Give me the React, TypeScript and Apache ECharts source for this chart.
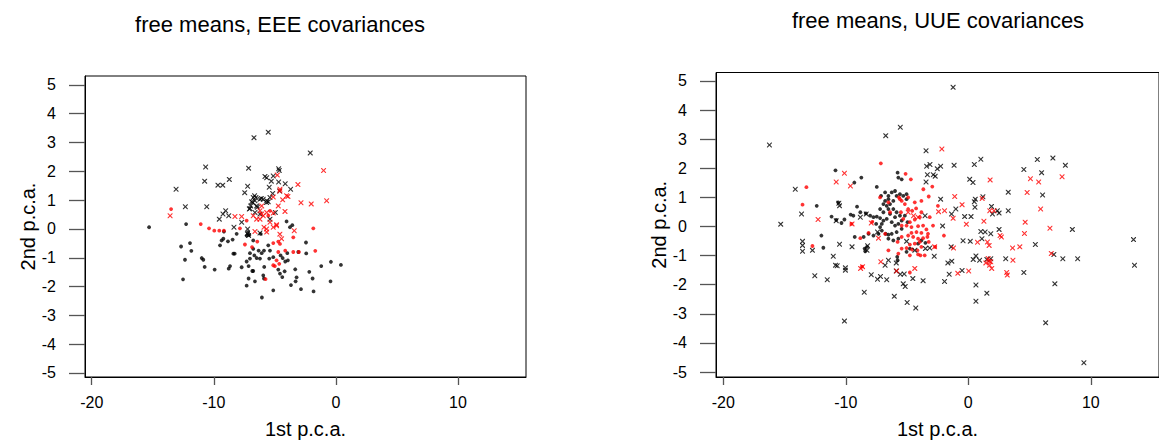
import React, { useEffect, useRef } from "react";
import * as echarts from "echarts";

const xTicks = [-20, -10, 0, 10];
const yTicks = [-5, -4, -3, -2, -1, 0, 1, 2, 3, 4, 5];
const titles = ["free means, EEE covariances", "free means, UUE covariances"];
const xName = "1st p.c.a.";
const yName = "2nd p.c.a.";

const leftBlackDots = [
  [-15.3, 0.06], [-12.27, 0.17], [-11.95, -0.49], [-12.68, -0.61], [-11.84, -0.76], [-12.36, -1.07],
  [-10.99, -1.01], [-10.86, -1.07], [-10.75, -1.32], [-9.93, -1.41], [-12.52, -1.75], [-9.49, -0.57],
  [-9.36, -0.4], [-9.22, -0.34], [-9.17, -0.09], [-8.84, -0.43], [-8.46, -0.37], [-8.13, -0.17],
  [-8.4, -0.86], [-8.29, -0.86], [-8.67, -1.29], [-8.78, -1.38], [-7.72, -1.33], [-7.15, -1.29],
  [-6.85, -1.46], [-6.77, -1.46], [-7.15, -1.72], [-7.31, -1.97], [-6.63, -1.82], [-5.95, -1.61],
  [-5.89, -1.72], [-6.06, -2.38], [-5.13, -2.13], [-4.58, -1.55], [-4.39, -1.67], [-4.2, -1.47],
  [-4.72, -1.41], [-5.46, -1.03], [-5.87, -1.32], [-6.49, -1.01], [-6.22, -1.03], [-6.68, -0.92],
  [-7.04, -1.03], [-7.31, -1.13], [-7.04, -0.84], [-6.77, -0.69], [-6.33, -0.75], [-6.08, -0.84],
  [-5.89, -0.75], [-5.54, -0.57], [-5.4, -0.75], [-5.13, -0.98], [-4.53, -0.92], [-4.36, -1.01],
  [-3.98, -0.84], [-3.93, -1.09], [-4.15, -1.13], [-3.33, -1.4], [-3.22, -1.68], [-3.3, -1.82],
  [-3.68, -1.95], [-2.86, -2.09], [-1.83, -2.17], [-1.91, -1.72], [-2.18, -1.49], [-1.2, -1.29],
  [-0.41, -1.14], [0.41, -1.25], [-0.44, -1.82], [-2.45, -0.47], [-2.43, -0.85], [-3.08, -0.8],
  [-3.57, 0.13], [-3.76, 0.06], [-4.04, 0.26], [-6.16, -0.17], [-6.77, -0.4], [-7.2, -0.11],
  [-7.31, -0.23], [-7.09, -0.21],
];

const leftRedDots = [
  [-13.5, 0.69], [-11.07, 0.17], [-10.39, 0.02], [-9.96, -0.06], [-9.55, -0.06], [-9.17, -0.06],
  [-1.85, 0.02], [-1.69, -0.76], [-3.03, -0.8], [-3.49, -0.8], [-7.45, -0.54], [-6.87, -0.63],
  [-6.44, -0.44], [-5.13, -0.49], [-4.72, -0.44], [-4.58, -0.52], [-4.72, -0.8], [-4.15, -0.75],
  [-4.86, -1.09], [-4.64, -1.21], [-5.13, -1.26], [-5.0, -1.29], [-5.76, -1.74], [-3.49, -0.29],
  [-7.31, 0.29], [-7.86, 0.02], [-5.4, 0.63], [-5.54, 0.46],
];

const leftBlackCross = [
  [-6.71, 3.17], [-5.54, 3.36], [-2.1, 2.64], [-10.67, 2.15], [-7.15, 2.11], [-4.69, 2.09],
  [-4.64, 2.03], [-10.75, 1.66], [-9.66, 1.52], [-9.27, 1.52], [-8.73, 1.72], [-13.09, 1.38],
  [-12.33, 0.77], [-10.58, 0.77], [-7.23, 1.48], [-7.47, 1.26], [-5.81, 1.82], [-5.67, 1.78],
  [-5.13, 1.84], [-5.29, 1.66], [-4.69, 1.63], [-4.15, 1.57], [-5.46, 1.45], [-3.71, 1.38],
  [-4.61, 1.32], [-5.18, 1.23], [-6.66, 1.15], [-6.55, 1.09], [-6.11, 1.06], [-5.67, 0.98],
  [-5.54, 0.94], [-6.82, 0.92], [-6.98, 0.8], [-6.44, 0.75], [-7.09, 0.69], [-6.63, 0.57],
  [-6.22, 0.52], [-4.96, 0.57], [-9.03, 0.63], [-9.25, 0.52], [-8.78, 0.46], [-9.55, 0.34],
  [-7.72, 0.23], [-8.35, 0.06], [-7.23, 0.0], [-7.25, -0.17], [-7.15, -0.23], [-6.22, -0.14],
  [-5.4, 0.34], [-6.77, 1.09], [-6.63, 0.98], [-6.49, 0.8], [-6.9, 0.94], [-7.04, 0.71],
  [-6.22, 1.03], [-5.95, 1.03], [-5.68, 0.92], [-5.4, 1.09],
];

const leftRedCross = [
  [-1.01, 2.03], [-3.11, 1.54], [-0.76, 0.98], [-2.86, 0.91], [-2.02, 0.87], [-13.58, 0.46],
  [-4.8, 1.87], [-4.58, 1.38], [-3.93, 1.13], [-4.36, 1.01], [-5.13, 1.11], [-6.08, 0.8],
  [-4.72, 0.8], [-4.17, 0.61], [-5.67, 0.57], [-5.13, 0.55], [-5.95, 0.46], [-5.4, 0.23],
  [-5.89, 0.06], [-4.86, 0.15], [-5.13, 0.06], [-5.67, -0.11], [-3.41, -0.06], [-4.45, -0.34],
  [-6.63, -0.09], [-8.27, 0.43], [-7.72, 0.43], [-6.08, 0.52], [-6.22, 0.63], [-6.77, 0.46],
  [-6.49, 0.34], [-4.59, 1.32], [-4.04, 1.15], [-4.86, 0.11], [-5.68, 0.0], [-6.22, 0.34],
  [-4.59, -0.18],
];

const rightBlackDots = [
  [-10.84, 1.93], [-8.73, 1.68], [-9.3, 1.51], [-7.47, 1.36], [-12.37, 0.71], [-10.62, 0.83],
  [-11.16, 0.34], [-10.78, 0.23], [-10.35, 0.12], [-10.11, 0.24], [-9.6, 0.41], [-9.38, 0.37],
  [-9.08, 0.68], [-8.81, 0.49], [-8.36, 0.45], [-8.01, 0.37], [-7.74, 0.32], [-7.47, 0.34],
  [-7.2, 0.29], [-11.99, -0.31], [-11.83, -0.73], [-9.27, -0.36], [-8.54, -0.36], [-8.14, -0.25],
  [-7.74, -0.31], [-7.33, -0.25], [-7.06, -0.14], [-6.74, -0.25], [-6.52, -0.28], [-8.46, -0.76],
  [-8.41, -0.85], [-8.27, -0.7], [-7.2, -0.02], [-7.06, 0.09], [-6.93, 0.2], [-5.77, 1.85],
  [-5.71, 1.68], [-5.44, 1.62], [-7.12, 1.05], [-6.79, 0.88], [-6.52, 0.94], [-6.93, 0.77],
  [-6.66, 0.71], [-6.39, 0.77], [-6.12, 0.88], [-5.85, 1.05], [-5.58, 1.11], [-5.31, 1.05],
  [-5.04, 0.94], [-6.12, 0.6], [-5.85, 0.49], [-5.58, 0.37], [-5.98, 0.32], [-6.39, 0.43],
  [-6.66, 0.26], [-6.25, 0.15], [-5.98, 0.03], [-5.71, 0.09], [-5.44, 0.2], [-5.18, 0.37],
  [-4.96, 0.15], [-5.44, -0.08], [-5.85, -0.19], [-6.25, -0.25], [-6.52, -0.42], [-6.12, -0.48],
  [-5.71, -0.42], [-6.52, 1.05], [-6.79, 1.17], [-6.25, 1.17], [-5.98, 1.22], [-5.04, 1.11],
  [-6.52, 0.6], [-6.93, 0.49], [-7.2, 0.6], [-3.83, -0.48], [-3.5, -0.56], [-4.1, -0.59],
  [-7.52, 0.09], [-5.77, -1.16], [-5.8, -1.04], [-5.04, -0.87], [-4.77, -0.76],
];

const rightRedDots = [
  [-7.14, 2.17], [-13.21, 1.35], [-13.53, 0.75], [-12.72, -0.67], [-8.68, -1.38], [-5.12, 1.81],
  [-4.69, 1.62], [-3.67, 1.28], [-2.94, 1.37], [-3.23, 1.03], [-2.48, 0.71], [-1.99, -0.31],
  [-2.7, -0.7], [-3.91, -0.99], [-4.77, -1.58], [-5.71, -0.93], [-6.52, -0.82], [-6.79, -0.25],
  [-7.2, 1.0], [-9.54, 0.09], [-8.81, -0.4], [-8.14, -0.22], [-7.84, 0.16],
  [-4.91, 0.6], [-4.58, 0.54], [-4.26, 0.62], [-3.83, 0.49], [-3.96, 0.32], [-4.37, 0.24],
  [-4.77, 0.15], [-5.04, 0.03], [-4.64, -0.02], [-4.1, 0.01], [-3.69, 0.03], [-3.42, -0.1],
  [-3.29, -0.25], [-3.83, -0.22], [-4.23, -0.19], [-4.64, -0.22], [-4.91, -0.31], [-4.5, -0.36],
  [-4.1, -0.42], [-3.69, -0.4], [-3.34, -0.36], [-3.96, -0.53], [-4.37, -0.59], [-4.77, -0.62],
  [-3.83, -0.7], [-4.15, -0.82], [-4.58, -0.79], [-5.04, -0.74], [-5.44, 0.03], [-5.31, 0.26],
  [-5.5, 0.49], [-5.18, 0.77], [-4.37, 0.83], [-3.83, 0.88], [-5.44, 0.88], [-5.66, 1.0],
  [-4.91, 1.0], [-3.15, 0.32], [-2.88, 0.03], [-3.23, -0.53], [-3.56, -0.99], [-4.1, -0.96],
  [-4.77, -0.99], [-5.44, -0.76], [-5.77, -0.53], [-5.44, -0.36], [-5.58, 0.94], [-6.52, 0.83],
  [-6.39, 0.49],
];

const rightBlackCross = [
  [-1.24, 4.78], [-16.23, 2.8], [-5.55, 3.41], [-6.74, 3.12], [-3.45, 2.6], [-3.4, 2.07],
  [-3.13, 2.13], [-2.53, 1.98], [-2.26, 2.07], [-3.34, 1.78], [-2.86, 1.78], [-2.7, 1.73],
  [-3.45, 1.53], [-1.16, 2.1], [0.49, 2.13], [1.02, 2.31], [0.11, 1.62], [0.38, 1.51],
  [4.53, 1.96], [5.63, 2.3], [6.9, 2.35], [7.92, 2.1], [5.98, 1.85], [6.06, 1.08],
  [3.26, 1.18], [0.57, 0.94], [0.49, 0.85], [1.19, 1.02], [0.54, 0.66], [1.89, 0.69],
  [1.97, 0.43], [2.37, 0.54], [2.51, 0.46], [3.26, 0.54], [-2.26, 0.94], [-1.02, 0.6],
  [-1.37, 0.43], [-0.3, 0.34], [0.22, 0.34], [-2.1, 0.02], [-3.53, 0.37], [2.51, -0.1],
  [1.02, -0.17], [1.37, -0.19], [1.83, -0.25], [-0.43, -0.49], [0.16, -0.51], [1.11, -0.42],
  [8.49, -0.1], [5.47, -0.62], [6.98, -0.96], [7.71, -1.11], [8.92, -1.11], [13.48, -0.45],
  [13.56, -1.33], [3.05, -1.11], [1.51, -1.13], [1.83, -1.11], [0.4, -1.13], [0.62, -1.01],
  [0.92, -1.16], [4.53, -1.58], [7.06, -1.97], [6.31, -3.31], [9.43, -4.68], [0.62, -2.01],
  [1.51, -2.29], [0.62, -2.57], [-1.4, -0.7], [-1.67, -1.25], [-1.35, -1.19], [-1.56, -1.64],
  [-1.94, -1.89], [-0.51, -1.51], [-2.78, -1.02], [-3.15, -0.74], [-3.5, -0.76], [-4.37, -0.82],
  [-3.69, -1.86], [-4.53, -1.79], [-5.23, -1.63], [-5.31, -1.97], [-5.15, -2.06], [-5.55, -1.64],
  [-5.88, -1.53], [-5.88, -1.25], [-6.04, -2.4], [-4.99, -2.61], [-4.29, -2.8], [-6.66, -1.83],
  [-6.79, -1.33], [-7.41, -1.81], [-7.17, -1.72], [-7.92, -1.66], [-8.49, -2.26], [-10.03, -1.42],
  [-10.03, -1.5], [-10.7, -1.35], [-10.84, -1.33], [-11.02, -1.02], [-11.51, -1.83], [-12.53, -1.69],
  [-10.51, -0.61], [-9.49, -0.7], [-13.53, -0.51], [-13.53, -0.65], [-13.53, -0.85], [-12.72, -0.82],
  [-13.61, 0.43], [-14.12, 1.28], [-15.31, 0.08], [-10.78, 0.2], [-10.51, 0.71], [-10.57, 0.8],
  [-8.81, 0.32], [-10.11, -3.25], [-6.52, -1.16], [-5.04, -0.51], [-7.41, -0.19], [-8.22, -0.66],
  [-8.27, -0.82], [-8.33, 0.43],
];

const rightRedCross = [
  [-2.16, 2.66], [1.78, 1.6], [5.07, 1.64], [5.74, 1.53], [7.65, 1.71], [4.8, 1.17],
  [5.9, 0.6], [4.64, 0.15], [4.58, -0.24], [6.66, -0.06], [6.77, -0.93], [-1.11, 1.03],
  [-0.51, 0.75], [1.13, 0.96], [1.27, 0.18], [-0.16, 0.08], [1.75, 0.54], [2.1, 0.54],
  [2.59, -0.31], [2.7, -0.36], [0.75, -0.54], [1.56, -0.53], [1.7, -0.65], [3.61, -0.74],
  [4.2, -0.7], [3.64, -1.16], [3.13, -1.58], [3.18, -1.67], [1.62, -1.1], [1.7, -1.19],
  [1.83, -1.21], [1.73, -1.33], [1.91, -1.44], [1.43, -1.25], [0.03, -1.53], [-0.86, -1.61],
  [-1.24, 0.28], [-1.21, -0.74], [-2.43, 0.51], [-1.94, 0.54], [-2.75, -0.7], [-5.85, -1.53],
  [-7.14, -1.21], [-8.79, -1.44], [-8.63, -1.38], [-7.33, -0.4], [-7.92, 0.12], [-9.49, 0.09],
  [-10.11, 1.83], [-10.78, 1.53], [-9.62, 1.39], [-12.26, 0.24], [-4.37, -1.44], [-4.91, 0.49],
  [-4.47, 0.37], [-4.1, 0.32],
];

const FONT = "Liberation Sans, Arial, Helvetica, sans-serif";
const CROSS =
  "path://M0,0 L1.6,0 L5,3.4 L8.4,0 L10,0 L10,1.6 L6.6,5 L10,8.4 L10,10 L8.4,10 L5,6.6 L1.6,10 L0,10 L0,8.4 L3.4,5 L0,1.6 Z";

function axisPair(gi: number, range: { xMin: number; xMax: number; yMin: number; yMax: number }, yGap: number) {
  const x = {
    type: "value",
    gridIndex: gi,
    min: range.xMin,
    max: range.xMax,
    name: xName,
    nameLocation: "middle",
    nameGap: 42,
    nameTextStyle: { color: "#000", fontSize: 20, fontFamily: FONT },
    axisLine: { show: true, onZero: false, lineStyle: { color: "#000", width: 1 } },
    axisTick: { show: true, length: 8, customValues: xTicks, lineStyle: { color: "#555", width: 1.3 } },
    axisLabel: { customValues: xTicks, color: "#000", fontSize: 16, fontFamily: FONT, margin: 17 },
    splitLine: { show: false },
  };
  const y = {
    type: "value",
    gridIndex: gi,
    min: range.yMin,
    max: range.yMax,
    name: yName,
    nameLocation: "middle",
    nameGap: yGap,
    nameTextStyle: { color: "#000", fontSize: 20, fontFamily: FONT },
    axisLine: { show: true, onZero: false, lineStyle: { color: "#000", width: 1 } },
    axisTick: { show: true, length: 16, customValues: yTicks, lineStyle: { color: "#555", width: 1.3 } },
    axisLabel: { customValues: yTicks, color: "#000", fontSize: 16, fontFamily: FONT, margin: 29 },
    splitLine: { show: false },
  };
  return { x, y };
}

function dotSeries(gi: number, data: number[][], color: string) {
  return {
    type: "scatter",
    xAxisIndex: gi,
    yAxisIndex: gi,
    data,
    symbol: "circle",
    symbolSize: 3.8,
    itemStyle: { color },
    silent: true,
  };
}

function crossSeries(gi: number, data: number[][], color: string) {
  return {
    type: "scatter",
    xAxisIndex: gi,
    yAxisIndex: gi,
    data,
    symbol: CROSS,
    symbolSize: 5,
    itemStyle: { color },
    silent: true,
  };
}

export default function App() {
  const ref = useRef<HTMLDivElement>(null);
  useEffect(() => {
    if (!ref.current) return;
    const chart = echarts.init(ref.current, undefined, { renderer: "svg" });
    const a0 = axisPair(0, { xMin: -20.55, xMax: 15.57, yMin: -5.14, yMax: 5.31 }, 44);
    const a1 = axisPair(1, { xMin: -20.59, xMax: 15.56, yMin: -5.17, yMax: 5.29 }, 42);
    chart.setOption({
      animation: false,
      backgroundColor: "#fff",
      grid: [
        { left: 85, top: 76, width: 441, height: 303, show: true, borderColor: "#000", borderWidth: 1, containLabel: false },
        { left: 716, top: 72.5, width: 447, height: 307.5, show: true, borderColor: "#000", borderWidth: 1, containLabel: false },
      ],
      xAxis: [a0.x, a1.x],
      yAxis: [a0.y, a1.y],
      graphic: [
        {
          type: "text",
          x: 280,
          y: 24,
          style: { text: titles[0], font: `22px ${FONT}`, fill: "#000", align: "center", verticalAlign: "middle" },
        },
        {
          type: "text",
          x: 938,
          y: 20,
          style: { text: titles[1], font: `22px ${FONT}`, fill: "#000", align: "center", verticalAlign: "middle" },
        },
      ],
      series: [
        dotSeries(0, leftBlackDots, "#000"),
        dotSeries(0, leftRedDots, "#ff0000"),
        crossSeries(0, leftBlackCross, "#000"),
        crossSeries(0, leftRedCross, "#ff0000"),
        dotSeries(1, rightBlackDots, "#000"),
        dotSeries(1, rightRedDots, "#ff0000"),
        crossSeries(1, rightBlackCross, "#000"),
        crossSeries(1, rightRedCross, "#ff0000"),
      ],
    });
    return () => chart.dispose();
  }, []);
  return <div ref={ref} style={{ width: 1159, height: 444, position: "absolute", left: 0, top: 0 }} />;
}
